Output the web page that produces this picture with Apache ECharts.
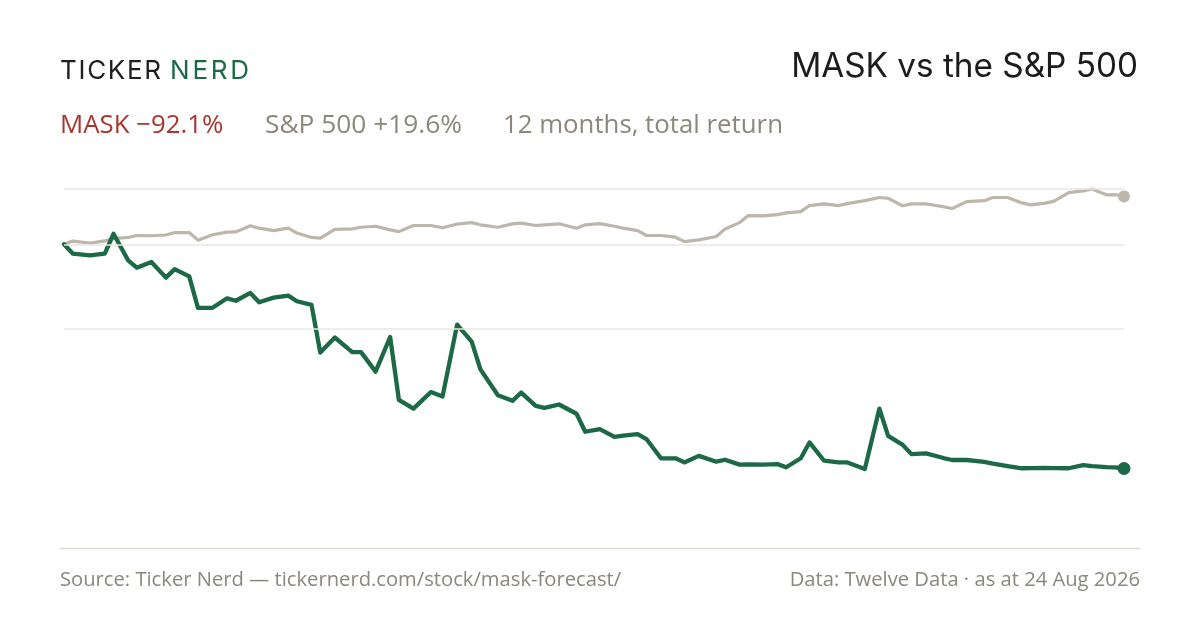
<!DOCTYPE html>
<html>
<head>
<meta charset="utf-8">
<title>MASK vs the S&P 500</title>
<script src="https://cdn.jsdelivr.net/npm/echarts@6.0.0/dist/echarts.min.js"></script>
<style>
html, body { margin: 0; padding: 0; background: #fff; }
#chart { width: 1200px; height: 630px; }
</style>
</head>
<body>
<div id="chart"></div>
<script>
// sample dates (every third trading day, plus the last day)
var dates = [
    '2025-08-25', '2025-08-28', '2025-09-03', '2025-09-08', '2025-09-11', '2025-09-16', '2025-09-19', '2025-09-24', '2025-09-29',
    '2025-10-02', '2025-10-07', '2025-10-10', '2025-10-15', '2025-10-20', '2025-10-23', '2025-10-28', '2025-10-31',
    '2025-11-05', '2025-11-10', '2025-11-13', '2025-11-18', '2025-11-21', '2025-11-26',
    '2025-12-02', '2025-12-05', '2025-12-10', '2025-12-15', '2025-12-18', '2025-12-23', '2025-12-29',
    '2026-01-02', '2026-01-07', '2026-01-12', '2026-01-15', '2026-01-21', '2026-01-26', '2026-01-29',
    '2026-02-03', '2026-02-06', '2026-02-11', '2026-02-17', '2026-02-20', '2026-02-25',
    '2026-03-02', '2026-03-05', '2026-03-10', '2026-03-13', '2026-03-18', '2026-03-23', '2026-03-26', '2026-03-31',
    '2026-04-06', '2026-04-09', '2026-04-14', '2026-04-17', '2026-04-22', '2026-04-27', '2026-04-30',
    '2026-05-05', '2026-05-08', '2026-05-13', '2026-05-18', '2026-05-21', '2026-05-27',
    '2026-06-01', '2026-06-04', '2026-06-09', '2026-06-12', '2026-06-17', '2026-06-23', '2026-06-26',
    '2026-07-01', '2026-07-07', '2026-07-10', '2026-07-15', '2026-07-20', '2026-07-23', '2026-07-28', '2026-07-31',
    '2026-08-05', '2026-08-10', '2026-08-13', '2026-08-18', '2026-08-21', '2026-08-24'
];

// growth of 100, total return
var maskValues = [
    100, 96.2, 95.4, 96.2, 104.3, 93.4, 90.4, 92.7, 86.3,
    89.8, 86.8, 73.9, 73.9, 77.8, 76.8, 80.0, 76.2,
    78.1, 78.9, 76.6, 75.1, 55.5, 61.7,
    55.7, 55.7, 47.7, 61.9, 36.1, 32.5, 39.3,
    37.5, 67.0, 60.0, 48.6, 38.0, 35.7, 39.1,
    33.6, 32.8, 34.2, 30.4, 23.0, 24.1,
    20.9, 21.4, 22.0, 20.0, 12.1, 12.1, 10.4, 13.1,
    10.7, 11.5, 9.5, 9.6, 9.5, 9.7, 8.4,
    12.1, 18.6, 11.1, 10.4, 10.4, 7.7,
    32.5, 21.3, 17.6, 13.8, 14.1, 12.2, 11.4,
    11.4, 10.6, 9.9, 8.9, 8.0, 8.1, 8.2, 8.1,
    8.0, 9.3, 8.9, 8.5, 8.4, 7.9
];

var spxValues = [
    100, 101.3, 100.5, 101.4, 102.3, 102.8, 103.6, 103.5, 103.8,
    104.8, 104.8, 101.7, 103.9, 105.0, 105.1, 107.6, 106.6,
    105.6, 106.6, 104.6, 102.8, 102.5, 106.1,
    106.3, 107.0, 107.4, 105.9, 105.2, 107.7, 107.7,
    106.8, 108.3, 108.9, 108.0, 107.0, 108.4, 108.7,
    107.7, 108.0, 108.4, 106.6, 108.0, 108.5,
    107.4, 106.6, 105.6, 103.6, 103.6, 102.9, 101.1, 101.8,
    103.2, 106.3, 108.9, 111.8, 111.7, 112.2, 112.9,
    113.4, 115.9, 116.6, 115.9, 116.7, 117.9,
    119.2, 118.9, 115.8, 116.6, 116.6, 115.4, 114.7,
    117.5, 117.9, 119.2, 119.2, 117.0, 116.2, 116.9, 117.7,
    121.2, 121.9, 122.7, 120.3, 120.4, 119.6
];

var baseline = 100;

var allValues = maskValues.concat(spxValues);
var yMax = Math.max.apply(null, allValues);
var yMin = Math.min.apply(null, allValues);
var yMid = (yMax + yMin) / 2;
var last = dates.length - 1;

function toPairs(values) {
    return dates.map(function (d, i) {
        return [d, values[i]];
    });
}

var inter = 'Inter, "Noto Sans", sans-serif';
var open = '"Open Sans", "Noto Sans", sans-serif';
var green = '#1b6a45';
var sand = '#bdb6aa';
var muted = '#8c877a';

function label(text, x, y, size, family, color, align) {
    return {
        type: 'text',
        x: x,
        y: y,
        silent: true,
        style: {
            text: text,
            fill: color,
            font: '400 ' + size + 'px ' + family,
            align: align || 'left',
            textAlign: align || 'left',
            verticalAlign: 'middle',
            textVerticalAlign: 'middle'
        }
    };
}

// the wordmark is letter-spaced, so place it glyph by glyph
var measureCtx = document.createElement('canvas').getContext('2d');
function spaced(text, x, y, size, color, gap) {
    var font = '400 ' + size + 'px ' + inter;
    measureCtx.font = font;
    var out = [];
    for (var i = 0; i < text.length; i++) {
        out.push(label(text[i], x, y, size, inter, color));
        x += measureCtx.measureText(text[i]).width + gap;
    }
    return out;
}

var chart = echarts.init(document.getElementById('chart'));

var option = {
    animation: false,
    backgroundColor: '#ffffff',
    grid: {
        left: 64,
        right: 76,
        top: 189,
        bottom: 161
    },
    xAxis: {
        type: 'time',
        min: 'dataMin',
        max: 'dataMax',
        show: false
    },
    yAxis: {
        type: 'value',
        min: yMin,
        max: yMax,
        show: false
    },
    series: [
        {
            // reference lines: high, start, halfway
            type: 'line',
            data: [],
            silent: true,
            z: 1,
            markLine: {
                silent: true,
                symbol: 'none',
                label: { show: false },
                lineStyle: { color: '#ebe7e1', width: 1.5, type: 'solid' },
                data: [{ yAxis: yMax }, { yAxis: baseline }, { yAxis: yMid }]
            }
        },
        {
            name: 'S&P 500',
            type: 'line',
            data: toPairs(spxValues),
            showSymbol: false,
            clip: false,
            z: 2,
            lineStyle: { color: sand, width: 3.2, join: 'round', cap: 'round' },
            markPoint: {
                symbol: 'circle',
                symbolSize: 12,
                itemStyle: { color: sand },
                label: { show: false },
                data: [{ coord: [dates[last], spxValues[last]] }]
            }
        },
        {
            name: 'MASK',
            type: 'line',
            data: toPairs(maskValues),
            showSymbol: false,
            clip: false,
            z: 3,
            lineStyle: { color: green, width: 4.3, join: 'round', cap: 'round' },
            markPoint: {
                symbol: 'circle',
                symbolSize: 13,
                itemStyle: { color: green },
                label: { show: false },
                data: [{ coord: [dates[last], maskValues[last]] }]
            }
        }
    ],
    graphic: [].concat(
        spaced('TICKER', 60, 71, 26, '#1f1f1f', 1.7),
        spaced('NERD', 170, 71, 26, green, 2.8),
        [
            label('MASK vs the S&P 500', 1138, 67, 33.3, inter, '#1c1c1c', 'right'),
            label('MASK \u221292.1%', 60, 125.5, 25.8, open, '#a8352e'),
            label('S&P 500 +19.6%', 265, 125.5, 26.3, open, muted),
            label('12 months, total return', 503, 125.5, 25.8, open, muted),
            {
                type: 'line',
                silent: true,
                shape: { x1: 60, y1: 548.5, x2: 1140, y2: 548.5 },
                style: { stroke: '#ddd9cf', lineWidth: 1.5 }
            },
            label('Source: Ticker Nerd \u2014 tickernerd.com/stock/mask-forecast/', 60, 580.5, 20.2, open, muted),
            label('Data: Twelve Data \u00b7 as at 24 Aug 2026', 1140, 580.5, 20.2, open, muted, 'right')
        ]
    )
};

chart.setOption(option);
</script>
</body>
</html>
